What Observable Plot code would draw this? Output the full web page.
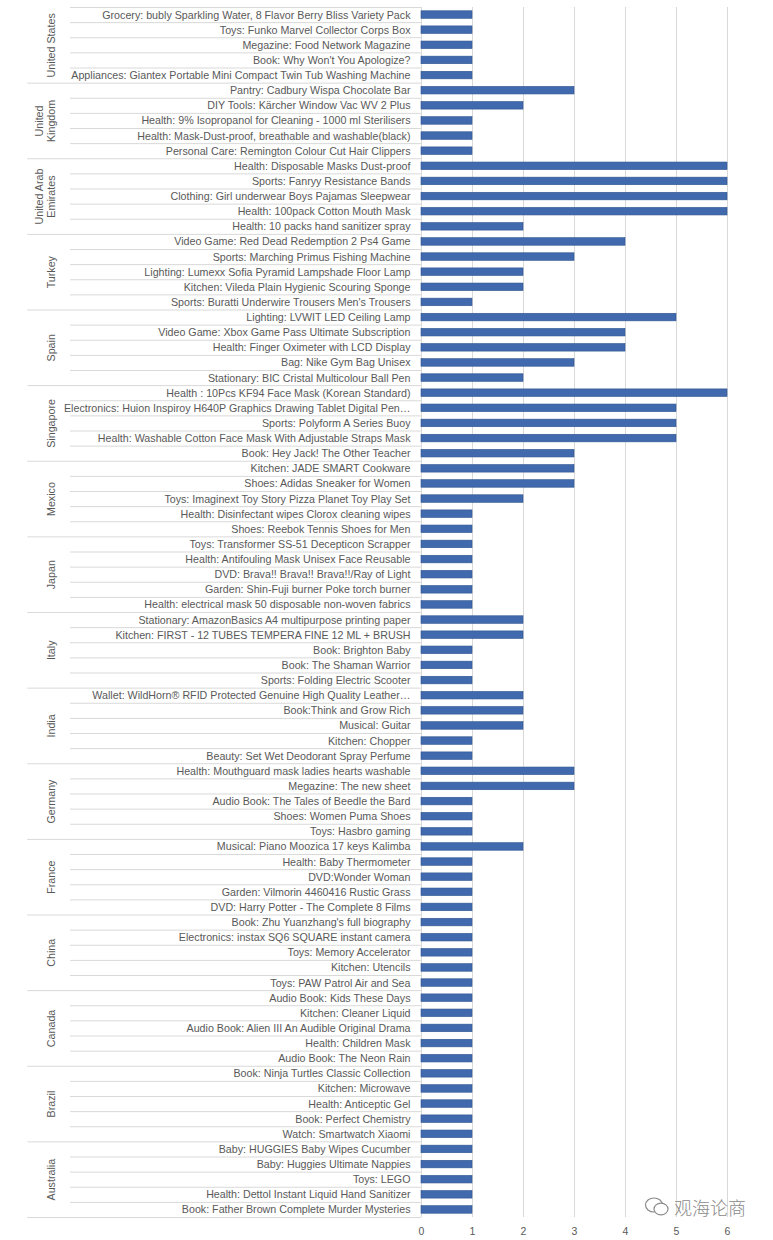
<!DOCTYPE html>
<html>
<head>
<meta charset="utf-8">
<script src="https://cdn.jsdelivr.net/npm/d3@7"></script>
<script src="https://cdn.jsdelivr.net/npm/@observablehq/plot@0.6"></script>
<style>
  body { margin: 0; background: #fff; }
  #wrap { position: relative; width: 773px; height: 1240px; overflow: hidden; }
  #wm { position: absolute; left: 644px; top: 1194px; display: flex; align-items: center; gap: 4px;
        font-family: "Noto Sans CJK SC", sans-serif; font-size: 18px; color: #8a8a8a; font-weight: 300; }
</style>
</head>
<body>
<div id="wrap"></div>
<script>
// ---- data ----
const countries = ["United States", "United Kingdom", "United Arab Emirates", "Turkey", "Spain", "Singapore",
  "Mexico", "Japan", "Italy", "India", "Germany", "France", "China", "Canada", "Brazil", "Australia"];
const countryLabels = ["United States", "United\nKingdom", "United Arab\nEmirates", "Turkey", "Spain", "Singapore",
  "Mexico", "Japan", "Italy", "India", "Germany", "France", "China", "Canada", "Brazil", "Australia"];
const products = [
  "Grocery: bubly Sparkling Water, 8 Flavor Berry Bliss Variety Pack",
  "Toys: Funko Marvel Collector Corps Box",
  "Megazine: Food Network Magazine",
  "Book: Why Won't You Apologize?",
  "Appliances: Giantex Portable Mini Compact Twin Tub Washing Machine",
  "Pantry: Cadbury Wispa Chocolate Bar",
  "DIY Tools: Kärcher Window Vac WV 2 Plus",
  "Health: 9% Isopropanol for Cleaning - 1000 ml Sterilisers",
  "Health: Mask-Dust-proof, breathable and washable(black)",
  "Personal Care: Remington Colour Cut Hair Clippers",
  "Health: Disposable Masks Dust-proof",
  "Sports: Fanryy Resistance Bands",
  "Clothing: Girl underwear Boys Pajamas Sleepwear",
  "Health: 100pack Cotton Mouth Mask",
  "Health: 10 packs hand sanitizer spray",
  "Video Game: Red Dead Redemption 2 Ps4 Game",
  "Sports: Marching Primus Fishing Machine",
  "Lighting: Lumexx Sofia Pyramid Lampshade Floor Lamp",
  "Kitchen: Vileda Plain Hygienic Scouring Sponge",
  "Sports: Buratti Underwire Trousers Men's Trousers",
  "Lighting: LVWIT LED Ceiling Lamp",
  "Video Game: Xbox Game Pass Ultimate Subscription",
  "Health: Finger Oximeter with LCD Display",
  "Bag: Nike Gym Bag Unisex",
  "Stationary: BIC Cristal Multicolour Ball Pen",
  "Health : 10Pcs KF94 Face Mask (Korean Standard)",
  "Electronics: Huion Inspiroy H640P Graphics Drawing Tablet Digital Pen…",
  "Sports: Polyform A Series Buoy",
  "Health: Washable Cotton Face Mask With Adjustable Straps Mask",
  "Book: Hey Jack! The Other Teacher",
  "Kitchen: JADE SMART Cookware",
  "Shoes: Adidas Sneaker for Women",
  "Toys: Imaginext Toy Story Pizza Planet Toy Play Set",
  "Health: Disinfectant wipes Clorox cleaning wipes",
  "Shoes: Reebok Tennis Shoes for Men",
  "Toys: Transformer SS-51 Decepticon Scrapper",
  "Health: Antifouling Mask Unisex Face Reusable",
  "DVD: Brava!! Brava!! Brava!!/Ray of Light",
  "Garden: Shin-Fuji burner Poke torch burner",
  "Health: electrical mask 50 disposable non-woven fabrics",
  "Stationary: AmazonBasics A4 multipurpose printing paper",
  "Kitchen: FIRST - 12 TUBES TEMPERA FINE 12 ML + BRUSH",
  "Book: Brighton Baby",
  "Book: The Shaman Warrior",
  "Sports: Folding Electric Scooter",
  "Wallet: WildHorn® RFID Protected Genuine High Quality Leather…",
  "Book:Think and Grow Rich",
  "Musical: Guitar",
  "Kitchen: Chopper",
  "Beauty: Set Wet Deodorant Spray Perfume",
  "Health: Mouthguard mask ladies hearts washable",
  "Megazine: The new sheet",
  "Audio Book: The Tales of Beedle the Bard",
  "Shoes: Women Puma Shoes",
  "Toys: Hasbro gaming",
  "Musical: Piano Moozica 17 keys Kalimba",
  "Health: Baby Thermometer",
  "DVD:Wonder Woman",
  "Garden: Vilmorin 4460416 Rustic Grass",
  "DVD: Harry Potter - The Complete 8 Films",
  "Book: Zhu Yuanzhang's full biography",
  "Electronics: instax SQ6 SQUARE instant camera",
  "Toys: Memory Accelerator",
  "Kitchen: Utencils",
  "Toys: PAW Patrol Air and Sea",
  "Audio Book: Kids These Days",
  "Kitchen: Cleaner Liquid",
  "Audio Book: Alien III An Audible Original Drama",
  "Health: Children Mask",
  "Audio Book: The Neon Rain",
  "Book: Ninja Turtles Classic Collection",
  "Kitchen: Microwave",
  "Health: Anticeptic Gel",
  "Book: Perfect Chemistry",
  "Watch: Smartwatch Xiaomi",
  "Baby: HUGGIES Baby Wipes Cucumber",
  "Baby: Huggies Ultimate Nappies",
  "Toys: LEGO",
  "Health: Dettol Instant Liquid Hand Sanitizer",
  "Book: Father Brown Complete Murder Mysteries"
];
const counts = [
  1, 1, 1, 1, 1,
  3, 2, 1, 1, 1,
  6, 6, 6, 6, 2,
  4, 3, 2, 2, 1,
  5, 4, 4, 3, 2,
  6, 5, 5, 5, 3,
  3, 3, 2, 1, 1,
  1, 1, 1, 1, 1,
  2, 2, 1, 1, 1,
  2, 2, 2, 1, 1,
  3, 3, 1, 1, 1,
  2, 1, 1, 1, 1,
  1, 1, 1, 1, 1,
  1, 1, 1, 1, 1,
  1, 1, 1, 1, 1,
  1, 1, 1, 1, 1
];
const xTicks = [0, 1, 2, 3, 4, 5, 6];
const perCountry = 5;

// ---- layout constants (in x-scale units, left of the origin = label area) ----
const ITEM_LINE_X1 = -6.88;
const GROUP_LINE_X1 = -7.72;
const GROUP_LABEL_X = -7.19;

const rows = products.map((p, i) => ({
  key: String(i),
  product: p,
  count: counts[i],
  country: countries[Math.floor(i / perCountry)],
  label: countryLabels[Math.floor(i / perCountry)],
  pos: i % perCountry
}));
const keys = rows.map(d => d.key);
const last = rows[rows.length - 1];

const H = 1240, MT = 7, MB = 23;
const halfStep = (H - MT - MB) / keys.length / 2;

const font = "'Liberation Sans', Arial, sans-serif";
const textColor = "#595959";
const lineColor = "#d9d9d9";

const chart = Plot.plot({
  width: 773,
  height: H,
  marginTop: MT,
  marginBottom: MB,
  marginLeft: 421,
  marginRight: 46,
  style: { fontFamily: font, fontSize: "10.7px", color: textColor, background: "#fff" },
  x: { domain: [0, 6], ticks: xTicks, label: null },
  y: { domain: keys, paddingInner: 0.5, paddingOuter: 0.25, round: false, axis: null, label: null },
  marks: [
    Plot.gridX(xTicks.slice(1), { stroke: lineColor, strokeOpacity: 1 }),
    Plot.ruleX([0], { stroke: lineColor, strokeOpacity: 1 }),
    // item separators (top of each non-first row, and top of chart)
    Plot.ruleY(rows.filter(d => d.pos !== 0 || d.key === "0"), {
      y: "key", x1: ITEM_LINE_X1, x2: 0, dy: -halfStep, stroke: lineColor
    }),
    // country separators
    Plot.ruleY(rows.filter(d => d.pos === 0 && d.key !== "0"), {
      y: "key", x1: GROUP_LINE_X1, x2: 0, dy: -halfStep, stroke: lineColor
    }),
    Plot.ruleY([last], {
      y: "key", x1: GROUP_LINE_X1, x2: 0, dy: halfStep, stroke: lineColor
    }),
    Plot.barX(rows, { y: "key", x: "count", fill: "#4169ae", stroke: "#2f5590", strokeWidth: 0.6 }),
    Plot.axisY({ tickSize: 0, tickPadding: 11, tickFormat: k => products[+k], fontSize: 10.7, fill: textColor, label: null }),
    Plot.axisX({ ticks: xTicks, tickSize: 0, tickPadding: 10, tickFormat: d3.format("d"), fontSize: 10.5, fill: textColor, label: null }),
    Plot.text(rows.filter(d => d.pos === 2), {
      y: "key", x: () => GROUP_LABEL_X, text: "label", rotate: -90,
      lineAnchor: "bottom", lineHeight: 1.15, fontSize: 10.7, fill: textColor
    })
  ]
});
document.getElementById("wrap").append(chart);

const wm = document.createElement("div");
wm.id = "wm";
wm.innerHTML = `<svg width="26" height="22" viewBox="0 0 26 22"><g fill="none" stroke="#8a8a8a" stroke-width="1.2">
<ellipse cx="10" cy="9" rx="8.5" ry="7"/><ellipse cx="17" cy="13" rx="7" ry="5.8" fill="#fff"/></g></svg><span>观海论商</span>`;
document.getElementById("wrap").append(wm);
</script>
</body>
</html>
